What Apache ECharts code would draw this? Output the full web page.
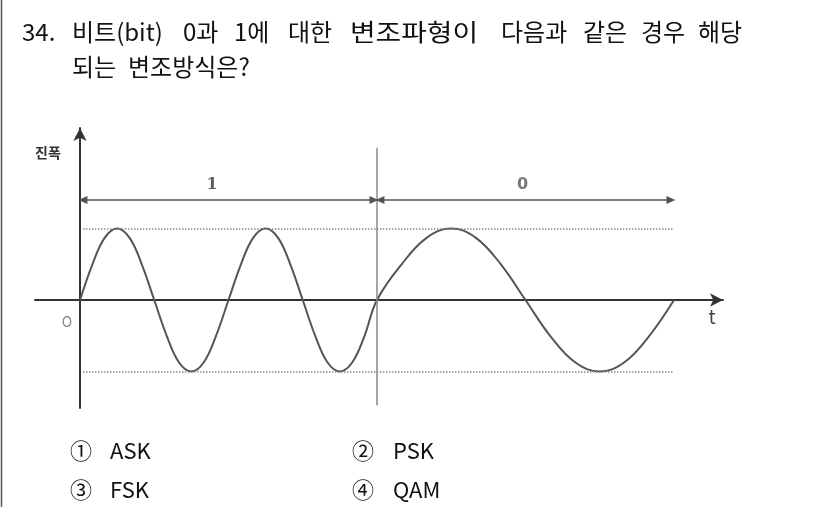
<!DOCTYPE html>
<html>
<head>
<meta charset="utf-8">
<script src="https://cdn.jsdelivr.net/npm/echarts@6/dist/echarts.min.js"></script>
<style>
  html, body { margin: 0; padding: 0; background: #fff; }
  #chart { width: 826px; height: 507px; }
</style>
</head>
<body>
<div id="chart"></div>
<script>
// waveform: bit 1 = two cycles, bit 0 = one cycle
const waveT = [0, 0.042, 0.083, 0.125, 0.167, 0.208, 0.25, 0.292, 0.333, 0.375, 0.417, 0.458,
  0.5, 0.542, 0.583, 0.625, 0.667, 0.708, 0.75, 0.792, 0.833, 0.875, 0.917, 0.958,
  1.0, 1.083, 1.167, 1.25, 1.333, 1.417, 1.5, 1.583, 1.667, 1.75, 1.833, 1.917, 2.0]
const waveV = [0, 0.5, 0.87, 1, 0.87, 0.5, 0, -0.5, -0.87, -1, -0.87, -0.5,
  0, 0.5, 0.87, 1, 0.87, 0.5, 0, -0.5, -0.87, -1, -0.87, -0.5,
  0, 0.5, 0.87, 1, 0.87, 0.5, 0, -0.5, -0.87, -1, -0.87, -0.5, 0]

const levels = [1, -1]
const levelSpan = [0.01, 2.0]
const boundT = [1, 2]
const boundTop = [2.13, 2.07]
const boundBottom = [-1.47, -1.54]
const bitSpans = [[0.01, 0.99], [1.01, 1.99]]
const spanLevel = 1.4
const bitLabels = ['1', '0']
const bitLabelT = [0.445, 1.49]
const bitLabelV = 1.61

// [text, x, y, horizontal stretch]
const question = [
  ['34.', 22, 32, 1], ['비트(bit)', 72, 32, 1], ['0과', 183, 32, 1], ['1에', 234, 32, 1],
  ['대한', 288, 32, 1], ['변조파형이', 350, 32, 1.16], ['다음과', 501, 32, 1], ['같은', 583, 32, 1],
  ['경우', 641, 32, 1], ['해당', 698, 32, 1],
  ['되는', 72, 67, 1], ['변조방식은?', 128, 67, 1]
]
const choices = [
  ['①', 'ASK', 70, 110, 451], ['②', 'PSK', 352, 393, 451],
  ['③', 'FSK', 70, 110, 490], ['④', 'QAM', 352, 393, 490]
]

const font = '"Noto Sans CJK KR", "Noto Sans", sans-serif'

const graphics = [{
  type: 'line',
  shape: { x1: 1.5, y1: 0, x2: 1.5, y2: 507 },
  style: { stroke: '#555', lineWidth: 1.5 }
}]
question.forEach(q => {
  graphics.push({
    type: 'text', x: q[1], y: q[2], scaleX: q[3],
    style: { text: q[0], fontSize: 24, fontFamily: font, fill: '#111', verticalAlign: 'middle' }
  })
})
choices.forEach(c => {
  graphics.push({
    type: 'text', x: c[2], y: c[4],
    style: { text: c[0], fontSize: 22, fontFamily: font, fill: '#111', verticalAlign: 'middle' }
  })
  graphics.push({
    type: 'text', x: c[3], y: c[4],
    style: { text: c[1], fontSize: 22, fontFamily: font, fill: '#111', verticalAlign: 'middle' }
  })
})
// axis captions
graphics.push({
  type: 'text', x: 48, y: 153,
  style: { text: '진폭', fontSize: 14, fontWeight: 'bold', fontFamily: font, fill: '#333', align: 'center', verticalAlign: 'middle' }
})
graphics.push({
  type: 'text', x: 67, y: 322,
  style: { text: 'O', fontSize: 14, fontFamily: font, fill: '#888', align: 'center', verticalAlign: 'middle' }
})
graphics.push({
  type: 'text', x: 712, y: 317,
  style: { text: 't', fontSize: 19, fontFamily: font, fill: '#444', align: 'center', verticalAlign: 'middle' }
})

const chart = echarts.init(document.getElementById('chart'))
chart.setOption({
  animation: false,
  backgroundColor: '#fff',
  grid: { left: 35, right: 103, top: 128, bottom: 99 },
  xAxis: {
    type: 'value',
    min: -0.1515,
    max: 2.165,
    splitLine: { show: false },
    axisTick: { show: false },
    axisLabel: { show: false },
    axisLine: {
      onZero: true,
      symbol: ['none', 'arrow'],
      symbolSize: [10, 13],
      lineStyle: { color: '#333', width: 2 }
    }
  },
  yAxis: {
    type: 'value',
    min: -1.51,
    max: 2.406,
    splitLine: { show: false },
    axisTick: { show: false },
    axisLabel: { show: false },
    axisLine: {
      onZero: true,
      symbol: ['none', 'arrow'],
      symbolSize: [10, 13],
      lineStyle: { color: '#333', width: 2 }
    }
  },
  series: [
    {
      name: 'wave',
      type: 'line',
      data: waveT.map((t, i) => [t, waveV[i]]),
      smooth: 0.4,
      symbol: 'none',
      silent: true,
      lineStyle: { color: '#555', width: 2 }
    },
    {
      name: 'levels',
      type: 'line',
      data: [],
      markLine: {
        silent: true,
        symbol: ['none', 'none'],
        label: { show: false },
        lineStyle: { color: '#888', width: 1.5, type: 'dotted' },
        data: levels.map(v => [{ coord: [levelSpan[0], v] }, { coord: [levelSpan[1], v] }])
      }
    },
    {
      name: 'bounds',
      type: 'line',
      data: [],
      markLine: {
        silent: true,
        symbol: ['none', 'none'],
        label: { show: false },
        lineStyle: { color: '#888', width: 1.5, type: 'solid' },
        data: boundT.map((t, i) => [{ coord: [t, boundTop[i]] }, { coord: [t, boundBottom[i]] }])
      }
    },
    {
      name: 'spans',
      type: 'line',
      data: [],
      markLine: {
        silent: true,
        symbol: ['triangle', 'triangle'],
        symbolSize: [8, 9],
        label: { show: false },
        lineStyle: { color: '#555', width: 1.5, type: 'solid' },
        data: bitSpans.map(s => [{ coord: [s[0], spanLevel] }, { coord: [s[1], spanLevel] }])
      }
    },
    {
      name: 'bits',
      type: 'scatter',
      silent: true,
      symbolSize: 1,
      itemStyle: { color: 'transparent' },
      data: bitLabels.map((b, i) => ({
        value: [bitLabelT[i], bitLabelV],
        name: b,
        label: i === 0
          ? { fontFamily: '"DejaVu Serif", serif', fontWeight: 'bold', color: '#333' }
          : { fontFamily: '"DejaVu Sans", sans-serif', fontWeight: 'bold', color: '#555' }
      })),
      label: {
        show: true,
        position: 'inside',
        formatter: p => p.name,
        fontSize: 16
      }
    }
  ],
  graphic: graphics
})
</script>
</body>
</html>
